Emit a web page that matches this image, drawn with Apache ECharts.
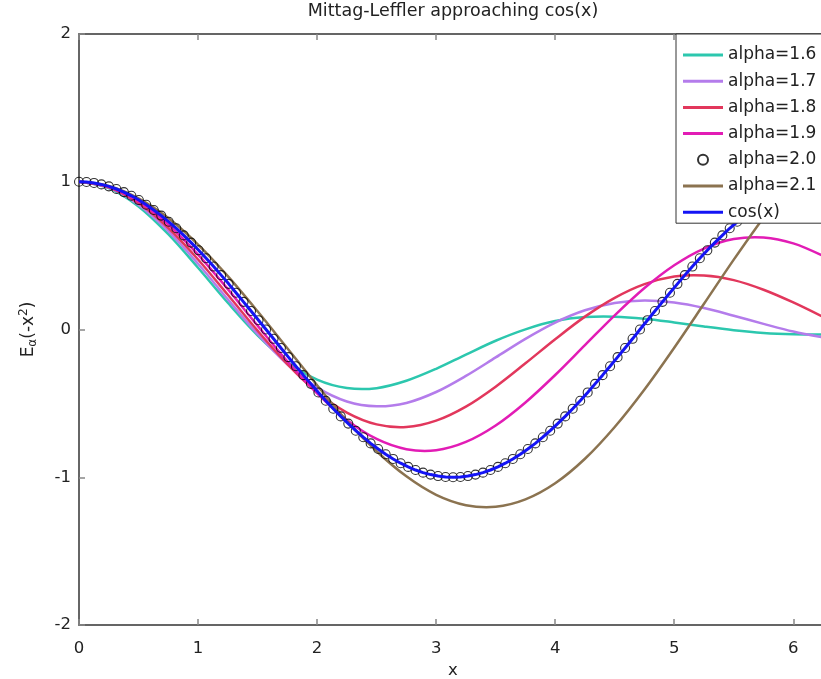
<!DOCTYPE html>
<html>
<head>
<meta charset="utf-8">
<script src="https://cdn.jsdelivr.net/npm/echarts@6/dist/echarts.min.js"></script>
<style>
  html, body { margin: 0; padding: 0; background: #fff; }
  #chart { width: 821px; height: 679px; }
</style>
</head>
<body>
<div id="chart"></div>
<script>
// fine grid (2*pi/100 steps) used for cos(x) and alpha=2.0 markers
const xFine = [
  0, 0.063, 0.126, 0.188, 0.251, 0.314, 0.377, 0.440, 0.503, 0.565,
  0.628, 0.691, 0.754, 0.817, 0.880, 0.942, 1.005, 1.068, 1.131, 1.194,
  1.257, 1.319, 1.382, 1.445, 1.508, 1.571, 1.634, 1.696, 1.759, 1.822,
  1.885, 1.948, 2.011, 2.073, 2.136, 2.199, 2.262, 2.325, 2.388, 2.450,
  2.513, 2.576, 2.639, 2.702, 2.765, 2.827, 2.890, 2.953, 3.016, 3.079,
  3.142, 3.204, 3.267, 3.330, 3.393, 3.456, 3.519, 3.581, 3.644, 3.707,
  3.770, 3.833, 3.896, 3.958, 4.021, 4.084, 4.147, 4.210, 4.273, 4.335,
  4.398, 4.461, 4.524, 4.587, 4.650, 4.712, 4.775, 4.838, 4.901, 4.964,
  5.027, 5.089, 5.152, 5.215, 5.278, 5.341, 5.404, 5.466, 5.529, 5.592,
  5.655, 5.718, 5.781, 5.843, 5.906, 5.969, 6.032, 6.095, 6.158, 6.220,
  6.283
];
const cosY = [
  1, 0.998, 0.992, 0.982, 0.969, 0.951, 0.930, 0.905, 0.876, 0.844,
  0.809, 0.771, 0.729, 0.685, 0.637, 0.588, 0.536, 0.482, 0.426, 0.368,
  0.309, 0.249, 0.187, 0.125, 0.063, 0, -0.063, -0.125, -0.187, -0.249,
  -0.309, -0.368, -0.426, -0.482, -0.536, -0.588, -0.637, -0.685, -0.729, -0.771,
  -0.809, -0.844, -0.876, -0.905, -0.930, -0.951, -0.969, -0.982, -0.992, -0.998,
  -1, -0.998, -0.992, -0.982, -0.969, -0.951, -0.930, -0.905, -0.876, -0.844,
  -0.809, -0.771, -0.729, -0.685, -0.637, -0.588, -0.536, -0.482, -0.426, -0.368,
  -0.309, -0.249, -0.187, -0.125, -0.063, 0, 0.063, 0.125, 0.187, 0.249,
  0.309, 0.368, 0.426, 0.482, 0.536, 0.588, 0.637, 0.685, 0.729, 0.771,
  0.809, 0.844, 0.876, 0.905, 0.930, 0.951, 0.969, 0.982, 0.992, 0.998,
  1
];
// alpha = 2.0 lies on cos(x)
const alpha20 = cosY;

// coarse grid for the other alphas
const xCoarse = [0, 0.25, 0.5, 0.75, 1, 1.25, 1.5, 1.75, 2, 2.25, 2.5, 2.75, 3,
  3.25, 3.5, 3.75, 4, 4.25, 4.5, 4.75, 5, 5.25, 5.5, 5.75, 6, 6.25];
const alpha16 = [1, 0.957, 0.833, 0.645, 0.418, 0.181, -0.039, -0.218, -0.339, -0.396,
  -0.397, -0.347, -0.266, -0.170, -0.076, 0.001, 0.057, 0.084, 0.087, 0.073,
  0.048, 0.020, -0.005, -0.023, -0.032, -0.034];
const alpha17 = [1, 0.960, 0.844, 0.666, 0.445, 0.204, -0.030, -0.235, -0.392, -0.487,
  -0.520, -0.497, -0.423, -0.314, -0.189, -0.063, 0.047, 0.130, 0.180, 0.196,
  0.182, 0.145, 0.093, 0.038, -0.014, -0.054];
const alpha18 = [1, 0.963, 0.856, 0.687, 0.474, 0.235, -0.008, -0.234, -0.425, -0.562,
  -0.642, -0.660, -0.617, -0.522, -0.387, -0.229, -0.066, 0.087, 0.214, 0.307,
  0.358, 0.365, 0.334, 0.269, 0.183, 0.085];
const alpha19 = [1, 0.966, 0.867, 0.710, 0.507, 0.273, 0.026, -0.215, -0.433, -0.612,
  -0.741, -0.810, -0.817, -0.761, -0.650, -0.494, -0.308, -0.106, 0.096, 0.281,
  0.435, 0.548, 0.612, 0.623, 0.583, 0.498];
const alpha21 = [1, 0.972, 0.888, 0.754, 0.575, 0.361, 0.123, -0.127, -0.377, -0.618,
  -0.824, -0.994, -1.119, -1.189, -1.200, -1.150, -1.041, -0.875, -0.660, -0.406,
  -0.123, 0.174, 0.473, 0.757, 1.015, 1.231];

const xTicks = [0, 1, 2, 3, 4, 5, 6];
const yTicks = [-2, -1, 0, 1, 2];

const FONT = 'DejaVu Sans';
const LINE_ICON = 'path://M0,0H40V3H0Z';
const chart = echarts.init(document.getElementById('chart'));

function pairs(xs, ys) {
  return xs.map((x, i) => [x, ys[i]]);
}

// smooth curve through the points, drawn in one polyline via the axes
function curve(name, ys, color) {
  return {
    name: name,
    type: 'custom',
    data: pairs(xCoarse, ys),
    encode: { x: 0, y: 1 },
    itemStyle: { color: color },
    z: 2,
    renderItem: function (params, api) {
      if (params.dataIndex !== 0) return null;
      const pts = xCoarse.map((x, i) => api.coord([x, ys[i]]));
      return {
        type: 'polyline',
        shape: { points: pts, smooth: 0.33 },
        style: { stroke: color, lineWidth: 2.5, fill: null }
      };
    }
  };
}

const axisCommon = {
  type: 'value',
  min: xTicks[0],
  max: 6.2832,
  interval: 1,
  splitLine: { show: false },
  axisLine: { show: true, onZero: false, lineStyle: { color: '#333', width: 1.5 } },
  axisTick: { show: true, inside: true, length: 6, lineStyle: { color: '#888', width: 1.5 } }
};

const option = {
  animation: false,
  backgroundColor: '#fff',
  title: {
    text: 'Mittag-Leffler approaching cos(x)',
    left: 453,
    textAlign: 'center',
    top: 2,
    padding: 0,
    textStyle: { fontFamily: FONT, fontSize: 17.5, fontWeight: 'normal', color: '#222' }
  },
  grid: { left: 79, right: -6, top: 34, bottom: 54, outerBoundsMode: 'none' },
  legend: {
    orient: 'vertical',
    left: 676,
    top: 34,
    padding: [12, 8, 2, 7],
    itemWidth: 40,
    itemHeight: 10,
    itemGap: 8.2,
    backgroundColor: '#fff',
    borderColor: '#333',
    borderWidth: 1,
    borderRadius: 0,
    z: 10,
    textStyle: { fontFamily: FONT, fontSize: 17, color: '#222', lineHeight: 18 },
    data: [
      { name: 'alpha=1.6', icon: LINE_ICON },
      { name: 'alpha=1.7', icon: LINE_ICON },
      { name: 'alpha=1.8', icon: LINE_ICON },
      { name: 'alpha=1.9', icon: LINE_ICON },
      { name: 'alpha=2.0' },
      { name: 'alpha=2.1', icon: LINE_ICON },
      { name: 'cos(x)', icon: LINE_ICON }
    ]
  },
  xAxis: [
    Object.assign({}, axisCommon, {
      position: 'bottom',
      name: 'x',
      nameLocation: 'middle',
      nameGap: 35,
      nameTextStyle: { fontFamily: FONT, fontSize: 16.5, color: '#222' },
      axisLabel: {
        fontFamily: FONT, fontSize: 16.5, color: '#222', margin: 15,
        formatter: v => (xTicks.indexOf(v) >= 0 ? String(v) : '')
      }
    }),
    Object.assign({}, axisCommon, {
      position: 'top',
      axisLabel: { show: false }
    })
  ],
  yAxis: {
    type: 'value',
    min: yTicks[0],
    max: yTicks[yTicks.length - 1],
    interval: 1,
    splitLine: { show: false },
    axisLine: { show: true, onZero: false, lineStyle: { color: '#333', width: 1.5 } },
    axisTick: { show: true, inside: true, length: 6, lineStyle: { color: '#888', width: 1.5 } },
    axisLabel: { fontFamily: FONT, fontSize: 16.5, color: '#222', margin: 8 },
    name: 'E{sub|α}(-x{sup|2})',
    nameLocation: 'middle',
    nameGap: 40,
    nameRotate: 90,
    nameTextStyle: {
      fontFamily: FONT, fontSize: 17, color: '#222',
      rich: {
        sub: { fontFamily: FONT, fontSize: 12, color: '#222', padding: [9, 0, 0, 0] },
        sup: { fontFamily: FONT, fontSize: 12, color: '#222', padding: [0, 0, 9, 0] }
      }
    }
  },
  series: [
    curve('alpha=1.6', alpha16, '#2CC7AE'),
    curve('alpha=1.7', alpha17, '#B47CEB'),
    curve('alpha=1.8', alpha18, '#E2375C'),
    curve('alpha=1.9', alpha19, '#E21CB5'),
    {
      name: 'alpha=2.0',
      type: 'scatter',
      data: pairs(xFine, alpha20),
      symbol: 'circle',
      symbolSize: 9,
      itemStyle: { color: 'rgba(255,255,255,0)', borderColor: '#000', borderWidth: 1.1 },
      z: 3
    },
    curve('alpha=2.1', alpha21, '#8B7350'),
    {
      name: 'cos(x)',
      type: 'line',
      data: pairs(xFine, cosY),
      symbol: 'none',
      lineStyle: { color: '#1414F5', width: 3 },
      itemStyle: { color: '#1414F5' },
      z: 4
    }
  ]
};

chart.setOption(option);
</script>
</body>
</html>
